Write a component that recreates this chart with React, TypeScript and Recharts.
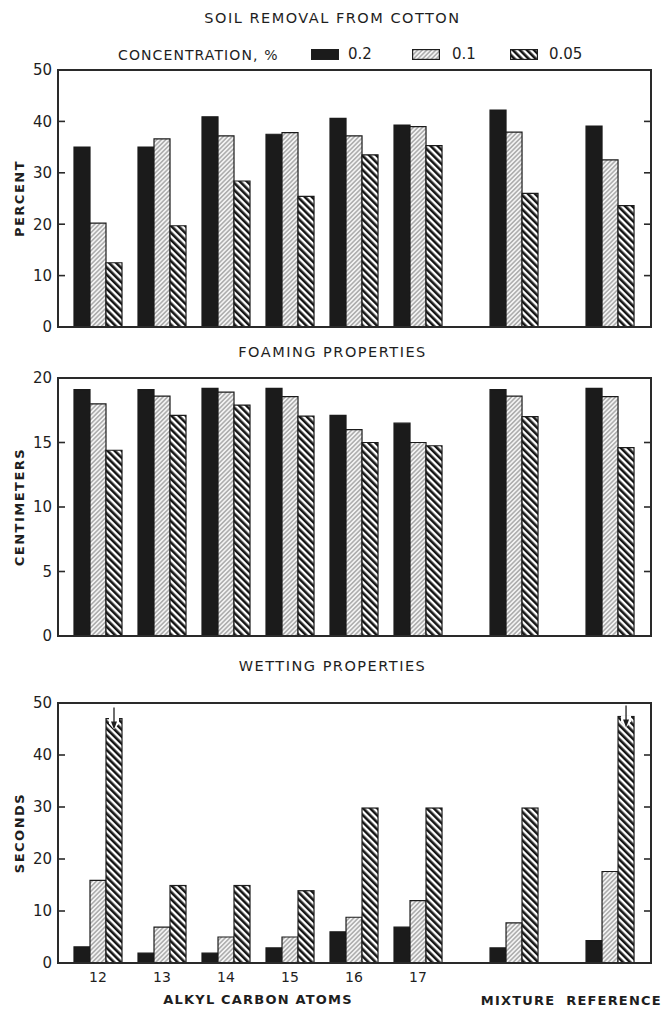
import React from 'react';
import { BarChart, Bar, XAxis, YAxis } from 'recharts';

// groups along the x axis (alkyl carbon atoms, then the mixture and the reference)
const groups = ['12', '13', '14', '15', '16', '17', 'MIXTURE', 'REFERENCE'];
const positions = [0, 1, 2, 3, 4, 5, 6.5, 8];

// soil removal from cotton, percent
const soil02 = [35.0, 35.0, 40.9, 37.5, 40.6, 39.3, 42.2, 39.1];
const soil01 = [20.2, 36.6, 37.2, 37.8, 37.2, 39.0, 37.9, 32.5];
const soil005 = [12.5, 19.7, 28.4, 25.4, 33.5, 35.3, 26.0, 23.6];

// foaming properties, centimeters
const foam02 = [19.1, 19.1, 19.2, 19.2, 17.1, 16.5, 19.1, 19.2];
const foam01 = [18.0, 18.6, 18.9, 18.55, 16.0, 15.0, 18.6, 18.55];
const foam005 = [14.4, 17.1, 17.9, 17.05, 15.0, 14.75, 17.0, 14.6];

// wetting properties, seconds
const wet02 = [3.1, 1.9, 1.9, 2.9, 6.0, 6.9, 2.9, 4.3];
const wet01 = [15.9, 6.9, 5.0, 5.0, 8.8, 12.0, 7.7, 17.6];
const wet005 = [47.0, 14.9, 14.9, 13.9, 29.8, 29.8, 29.8, 47.4];
const wetOffScale = [true, false, false, false, false, false, false, true];

const soilTicks = [0, 10, 20, 30, 40, 50];
const foamTicks = [0, 5, 10, 15, 20];
const wetTicks = [0, 10, 20, 30, 40, 50];

const series = [
  { key: 'c02', name: '0.2', fill: '#1b1b1b', stroke: '#1b1b1b' },
  { key: 'c01', name: '0.1', fill: 'url(#hatch01)', stroke: '#1b1b1b' },
  { key: 'c005', name: '0.05', fill: 'url(#stripe005)', stroke: '#1b1b1b' },
];

const build = (a: number[], b: number[], c: number[], off?: boolean[]) =>
  groups.map((g, i) => ({ name: g, pos: positions[i], c02: a[i], c01: b[i], c005: c[i], off: off ? off[i] : false }));

const soilData = build(soil02, soil01, soil005);
const foamData = build(foam02, foam01, foam005);
const wetData = build(wet02, wet01, wet005, wetOffScale);

const FONT = '"DejaVu Sans", sans-serif';
const INK = '#1e1e1e';
const FRAME = '#2a2a2a';
const X_DOMAIN = [-0.625, 8.64];
const Y_AXIS_W = 58;
const RIGHT_PAD = 14;
const PLOT_W = 665 - Y_AXIS_W - RIGHT_PAD;
const TICK_LEN = 7;
const LABEL_GAP = 6;

const OffScaleBar = (props: any) => {
  const { x, y, width, height, fill, payload } = props;
  const cx = x + width / 2;
  return (
    <g>
      <rect x={x} y={y} width={width} height={height} fill={fill} stroke={INK} strokeWidth={1.2} />
      {payload && payload.off && (
        <g>
          <polygon
            points={`${x + 3},${y - 1} ${x + width - 3},${y - 1} ${x + width - 3},${y + 5} ${cx},${y + 11} ${x + 3},${y + 5}`}
            fill="#fff"
          />
          <line x1={cx} y1={y - 11} x2={cx} y2={y + 5} stroke={INK} strokeWidth={1.3} />
          <polygon points={`${cx - 3},${y + 3} ${cx + 3},${y + 3} ${cx},${y + 11}`} fill={INK} />
        </g>
      )}
    </g>
  );
};

// value axis: number outside on the left, short inward tick marks on both sides of the frame
const ValueTick = (props: any) => {
  const { x, y, payload } = props;
  const ax = x + LABEL_GAP;
  const rx = ax + PLOT_W;
  return (
    <g>
      <line x1={ax} y1={y} x2={ax + TICK_LEN} y2={y} stroke={FRAME} strokeWidth={1.6} />
      <line x1={rx - TICK_LEN} y1={y} x2={rx} y2={y} stroke={FRAME} strokeWidth={1.6} />
      <text x={x} y={y} dy="0.36em" textAnchor="end" fontFamily={FONT} fontSize={15} fill={INK}>
        {payload.value}
      </text>
    </g>
  );
};

const GroupTick = (props: any) => {
  const { x, y, payload } = props;
  const label = groups[positions.indexOf(payload.value)];
  if (!label) return null;
  const numeric = /^\d+$/.test(label);
  return (
    <text
      x={numeric ? x : x + 4}
      y={numeric ? y + 19 : y + 42}
      textAnchor="middle"
      fontFamily={FONT}
      fontSize={numeric ? 14 : 13}
      fontWeight={numeric ? 400 : 700}
      letterSpacing={numeric ? 0 : 1.2}
      fill={INK}
    >
      {label}
    </text>
  );
};

function Panel({ data, ticks, max, yLabel, top, height, margin, xHeight, showX, offShape }: any) {
  const plotH = height - margin.top - margin.bottom - xHeight;
  return (
    <div style={{ position: 'absolute', left: 0, top, width: 665, height }}>
      <BarChart width={665} height={height} data={data} margin={margin} barGap={0}>
        <XAxis
          xAxisId="b"
          type="number"
          dataKey="pos"
          domain={X_DOMAIN}
          ticks={positions}
          allowDataOverflow
          height={xHeight}
          tickLine={false}
          tickSize={0}
          tickMargin={0}
          tick={showX ? <GroupTick /> : false}
          axisLine={false}
        />
        <YAxis
          yAxisId="l"
          type="number"
          domain={[0, max]}
          ticks={ticks}
          width={Y_AXIS_W}
          tickSize={0}
          tickMargin={LABEL_GAP}
          tickLine={false}
          tick={<ValueTick />}
          axisLine={false}
          label={{
            value: yLabel,
            angle: -90,
            position: 'insideLeft',
            offset: 19,
            style: { textAnchor: 'middle', fontFamily: FONT, fontSize: 13, fontWeight: 700, letterSpacing: 1.5, fill: INK },
          }}
        />
        {series.map((s) => (
          <Bar
            key={s.key}
            dataKey={s.key}
            xAxisId="b"
            yAxisId="l"
            barSize={16}
            fill={s.fill}
            stroke={s.stroke}
            strokeWidth={1.2}
            isAnimationActive={false}
            shape={offShape && s.key === 'c005' ? <OffScaleBar /> : undefined}
          />
        ))}
      </BarChart>
      {/* plot frame */}
      <div
        style={{
          position: 'absolute',
          left: Y_AXIS_W - 1,
          top: margin.top - 1,
          width: PLOT_W + 2,
          height: plotH + 2,
          border: `2px solid ${FRAME}`,
          boxSizing: 'border-box',
          pointerEvents: 'none',
        }}
      />
    </div>
  );
}

const titleStyle: React.CSSProperties = {
  position: 'absolute',
  left: 0,
  width: 665,
  textAlign: 'center',
  fontFamily: FONT,
  fontSize: 14.5,
  letterSpacing: 1.5,
  color: INK,
  lineHeight: '16px',
};

function Swatch({ fill, left }: any) {
  return (
    <svg width={28} height={11} style={{ position: 'absolute', left, top: 49 }}>
      <rect x={0.6} y={0.6} width={26.8} height={9.8} fill={fill} stroke={INK} strokeWidth={1.2} />
    </svg>
  );
}

export default function App() {
  const legendSlots = [
    { box: 311, text: 348 },
    { box: 412, text: 452 },
    { box: 510, text: 549 },
  ];
  return (
    <div style={{ position: 'absolute', left: 0, top: 0, width: 665, height: 1009, background: '#fff', overflow: 'hidden' }}>
      <svg width={0} height={0} style={{ position: 'absolute' }}>
        <defs>
          <pattern id="hatch01" width={3.2} height={3.2} patternUnits="userSpaceOnUse" patternTransform="rotate(45)">
            <rect width={3.2} height={3.2} fill="#f3f3f3" />
            <line x1={1.6} y1={0} x2={1.6} y2={3.2} stroke="#7a7a7a" strokeWidth={0.9} />
          </pattern>
          <pattern id="stripe005" width={5} height={5} patternUnits="userSpaceOnUse" patternTransform="rotate(-45)">
            <rect width={5} height={5} fill="#fff" />
            <rect x={0} y={0} width={2.6} height={5} fill="#151515" />
          </pattern>
        </defs>
      </svg>

      <div style={{ ...titleStyle, top: 10 }}>SOIL REMOVAL FROM COTTON</div>

      <div style={{ position: 'absolute', left: 118, top: 47, fontFamily: FONT, fontSize: 14, letterSpacing: 1.1, color: INK, lineHeight: '16px' }}>
        CONCENTRATION, %
      </div>
      {series.map((s, i) => (
        <React.Fragment key={s.key}>
          <Swatch fill={s.fill} left={legendSlots[i].box} />
          <div style={{ position: 'absolute', left: legendSlots[i].text, top: 46, fontFamily: FONT, fontSize: 15, color: INK, lineHeight: '17px' }}>
            {s.name}
          </div>
        </React.Fragment>
      ))}

      <Panel data={soilData} ticks={soilTicks} max={50} yLabel="PERCENT" top={0} height={345}
        margin={{ top: 70, right: RIGHT_PAD, bottom: 18, left: 0 }} xHeight={0} showX={false} />

      <div style={{ ...titleStyle, top: 344 }}>FOAMING PROPERTIES</div>

      <Panel data={foamData} ticks={foamTicks} max={20} yLabel="CENTIMETERS" top={345} height={300}
        margin={{ top: 33, right: RIGHT_PAD, bottom: 9, left: 0 }} xHeight={0} showX={false} />

      <div style={{ ...titleStyle, top: 658 }}>WETTING PROPERTIES</div>

      <Panel data={wetData} ticks={wetTicks} max={50} yLabel="SECONDS" top={645} height={364}
        margin={{ top: 58, right: RIGHT_PAD, bottom: 0, left: 0 }} xHeight={46} showX offShape />

      <div style={{ position: 'absolute', left: 98, width: 320, top: 992, textAlign: 'center', fontFamily: FONT, fontSize: 13, fontWeight: 700, letterSpacing: 1.2, color: INK, lineHeight: '16px' }}>
        ALKYL CARBON ATOMS
      </div>
    </div>
  );
}
